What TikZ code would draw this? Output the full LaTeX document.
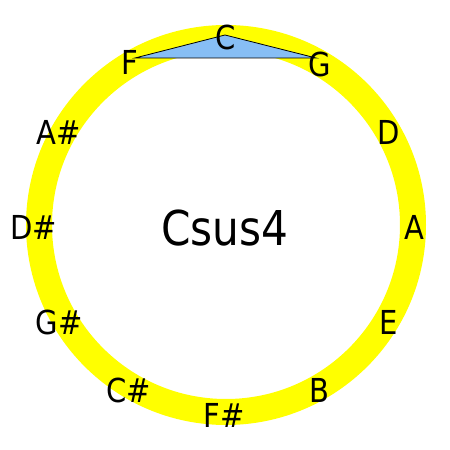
\documentclass[tikz,border=0pt]{standalone}
\usepackage{fontspec}
\setmainfont{DejaVu Sans}[FakeStretch=0.88]
\definecolor{ringyellow}{RGB}{255,255,0}
\definecolor{triblue}{RGB}{135,190,245}
\begin{document}
\begin{tikzpicture}[x=1pt,y=1pt,
  notelabel/.style={inner sep=0pt, font=\fontsize{33}{40}\selectfont, text=black},
  chordlabel/.style={inner sep=0pt, font=\fontsize{48}{56}\selectfont, text=black},
  ring/.style={draw=ringyellow, line width=26pt},
  triad/.style={fill=triblue, draw=black, line width=0.8pt, line join=miter}]
\useasboundingbox (0,0) rectangle (450,450);
\coordinate (ctr) at (226,225);
\draw[ring] (ctr) circle[radius=187];
\coordinate (vC) at (225,415);
\coordinate (vF) at (135,392);
\coordinate (vG) at (316,392);
\draw[triad] (vF) -- (vC) -- (vG) -- cycle;
\node[notelabel] (nC) at (226,413) {C};
\node[notelabel] (nG) at (319.5,386) {G};
\node[notelabel] (nD) at (389,318) {D};
\node[notelabel] (nA) at (414,223) {A};
\node[notelabel] (nE) at (389,128) {E};
\node[notelabel] (nB) at (319,60) {B};
\node[notelabel] (nFs) at (224,35) {F\#};
\node[notelabel] (nCs) at (129,60) {C\#};
\node[notelabel] (nGs) at (59,128) {G\#};
\node[notelabel] (nDs) at (33.5,223) {D\#};
\node[notelabel] (nAs) at (59,318) {A\#};
\node[notelabel] (nF) at (129.5,388) {F};
\node[chordlabel] (chord) at (225,222) {Csus4};
\end{tikzpicture}
\end{document}
